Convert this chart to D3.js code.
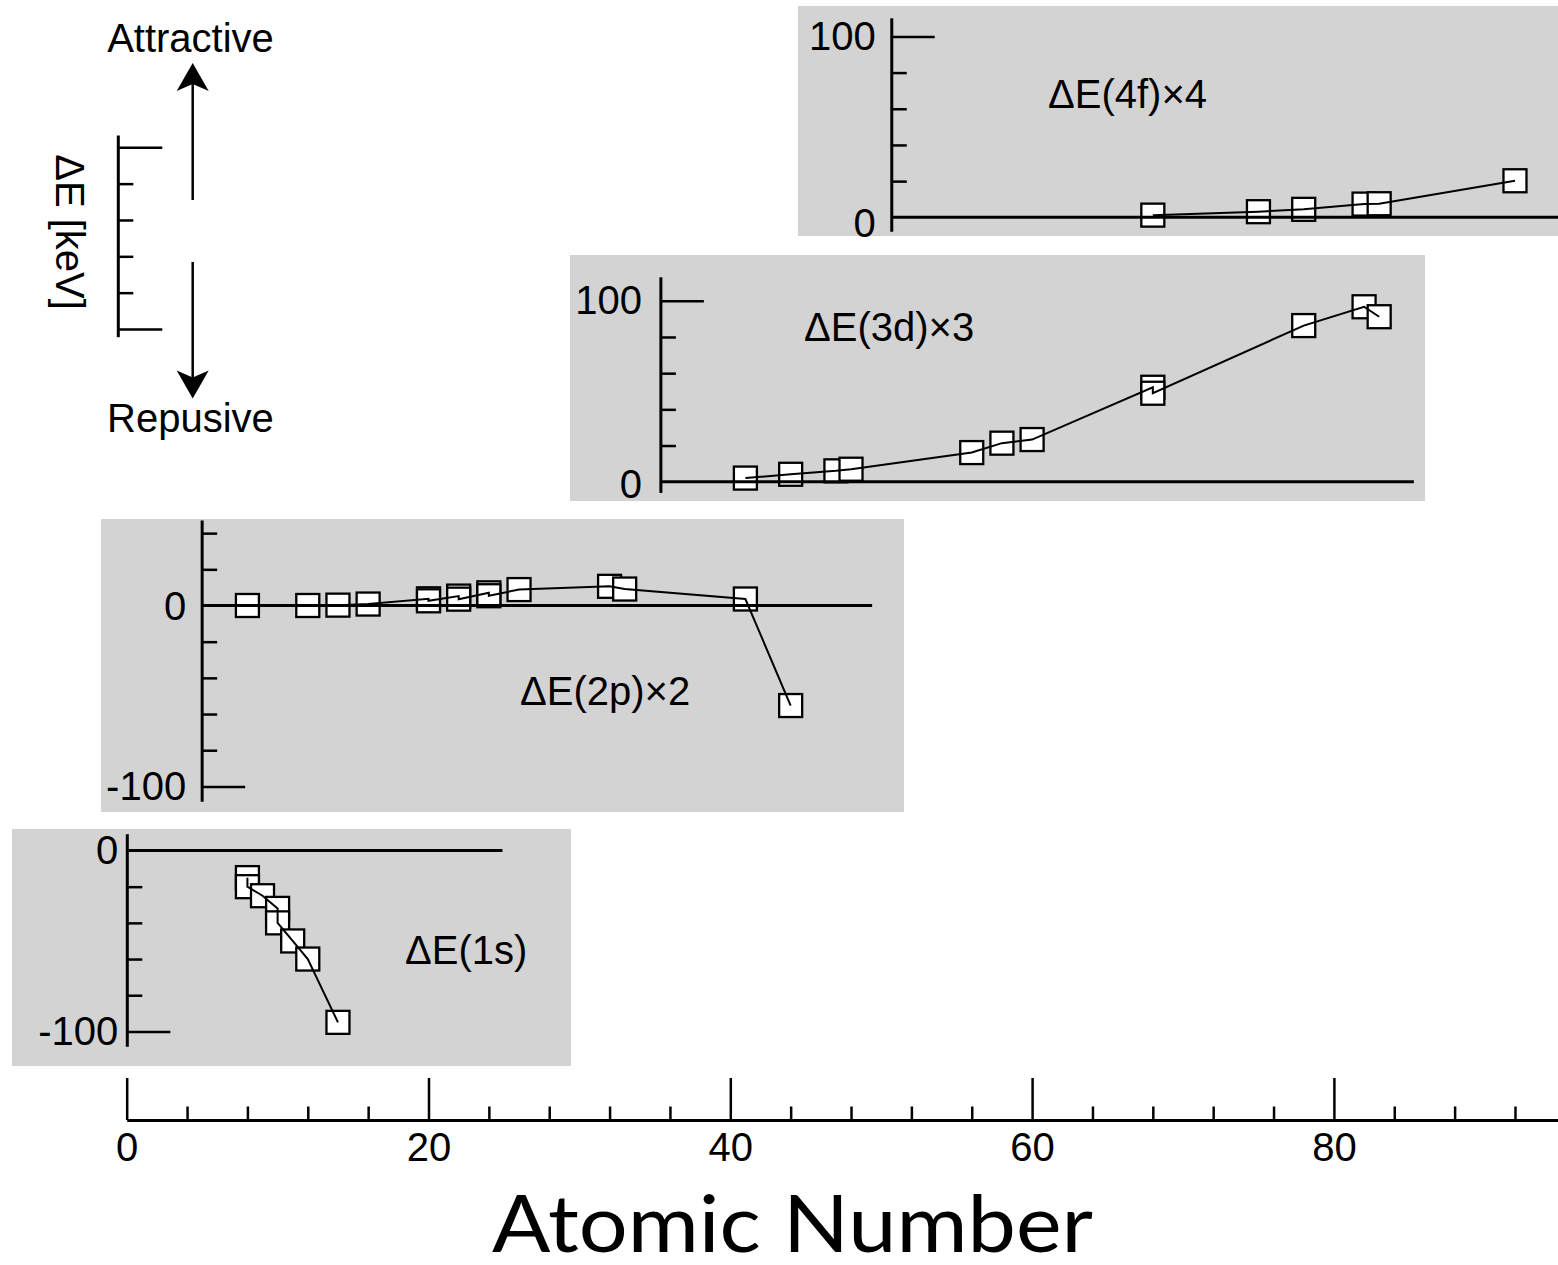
<!DOCTYPE html>
<html>
<head>
<meta charset="utf-8">
<script src="https://cdn.jsdelivr.net/npm/d3@7"></script>
<style>
  body { margin: 0; background: #fff; }
  svg { display: block; }
  text { fill: #000; }
</style>
</head>
<body>
<div id="chart"></div>
<script>
// atomic numbers and energy shifts
var z1s  = [8, 8, 9, 10, 10, 11, 12, 14];
var dE1s = [-15, -20, -25, -32, -40, -50, -60, -95];

var z2p  = [8, 12, 14, 16, 20, 20, 22, 22, 24, 24, 26, 32, 33, 41, 44];
var dE2p = [0, 0, 0.2, 0.8, 3.7, 2.6, 5.2, 3.5, 7.0, 5.4, 8.8, 10.6, 9.1, 3.6, -55.3];

var z3d  = [41, 44, 47, 48, 56, 58, 60, 68, 68, 78, 82, 83];
var dE3d = [2, 4.1, 6, 6.9, 16.1, 21.3, 23.3, 52.2, 48.9, 86.3, 96.7, 91.2];

var z4f  = [68, 75, 78, 82, 83, 92];
var dE4f = [1.2, 3.1, 4.4, 7.3, 7.5, 20.2];

var panelNames = ["ΔE(1s)", "ΔE(2p)×2", "ΔE(3d)×3", "ΔE(4f)×4"];
var xTickLabels = [0, 20, 40, 60, 80];
var yTickLabels = [[0, -100], [0, -100], [0, 100], [0, 100]];
var yMinorTicks = [[-20, -40, -60, -80], [40, 20, -20, -40, -60, -80], [20, 40, 60, 80], [20, 40, 60, 80]];
var scaleBarTicks = [0, 20, 40, 60, 80, 100];
var xTitle = "Atomic Number";
var yTitle = "ΔE [keV]";
var upLabel = "Attractive", downLabel = "Repusive";

// page size
var width = 1558, height = 1265;
var pxPerKeV = 1.809;
var sans = "'Liberation Sans', Arial, Helvetica, sans-serif";

// shared x scale (atomic number)
var x = d3.scaleLinear().domain([0, 95.5]).range([126.7, 126.7 + 95.5 * 15.09]);

// panel layout: grey box, y of zero, where the y axis sits, how far lines run
var layout = [
  {box: [12, 829, 559, 237],  y0: 850.5, axisZ: 0.04, ext: [9, -108.5],  zeroEnd: 24.9, pad: 9,  zeroDy: 0, label: [405, 964], z: z1s, v: dE1s},
  {box: [101, 519, 803, 293], y0: 605.5, axisZ: 5,    ext: [47, -108.5], zeroEnd: 49.4, pad: 16, zeroDy: 1, label: [520, 705], z: z2p, v: dE2p},
  {box: [570, 255, 855, 246], y0: 481.7, axisZ: 35.4, ext: [113, -6.2],  zeroEnd: 85.3, pad: 19, zeroDy: 3, label: [804, 341], z: z3d, v: dE3d},
  {box: [798, 6, 770, 230],   y0: 217.3, axisZ: 50.7, ext: [110, -8],    zeroEnd: 95.5, pad: 16, zeroDy: 6, label: [1048, 108], z: z4f, v: dE4f}
];

var svg = d3.select("#chart").append("svg")
    .attr("width", width)
    .attr("height", height)
    .style("font-family", sans);

layout.forEach(function(p, i) {
  var y = d3.scaleLinear().domain([0, 100]).range([p.y0, p.y0 - 100 * pxPerKeV]);
  var ax = x(p.axisZ);
  var g = svg.append("g");

  // grey background
  g.append("rect")
      .attr("x", p.box[0]).attr("y", p.box[1])
      .attr("width", p.box[2]).attr("height", p.box[3])
      .attr("fill", "#d3d3d3");

  // vertical axis line
  g.append("line")
      .attr("x1", ax).attr("x2", ax)
      .attr("y1", y(p.ext[0])).attr("y2", y(p.ext[1]))
      .attr("stroke", "#000").attr("stroke-width", 3);

  // minor ticks (pointing right)
  g.append("g")
      .attr("transform", "translate(" + ax + ",0)")
      .call(d3.axisLeft(y).tickValues(yMinorTicks[i]).tickSize(-15).tickFormat(""))
      .call(function(s) { s.select(".domain").remove(); })
      .selectAll("line").attr("stroke-width", 2.5);

  // labelled ticks
  var lab = g.append("g")
      .attr("transform", "translate(" + ax + ",0)")
      .call(d3.axisLeft(y).tickValues(yTickLabels[i]).tickSize(-43).tickPadding(p.pad)
            .tickFormat(function(d) { return String(d); }))
      .call(function(s) { s.select(".domain").remove(); });
  lab.selectAll(".tick line")
      .attr("stroke-width", 2.5)
      .attr("display", function(d) { return d === 0 ? "none" : null; });
  lab.selectAll("text")
      .attr("font-size", 40)
      .attr("y", function(d) { return d === 0 ? p.zeroDy : 0; })
      .style("font-family", sans);

  // data squares
  var pts = p.z.map(function(d, j) { return {z: d, v: p.v[j]}; });
  g.selectAll(".sq")
      .data(pts)
      .enter().append("rect")
      .attr("class", "sq")
      .attr("x", function(d) { return x(d.z) - 11.5; })
      .attr("y", function(d) { return y(d.v) - 11.5; })
      .attr("width", 23).attr("height", 23)
      .attr("fill", "#fff")
      .attr("stroke", "#000").attr("stroke-width", 2.3);

  // zero line
  g.append("line")
      .attr("x1", ax).attr("x2", x(p.zeroEnd))
      .attr("y1", y(0)).attr("y2", y(0))
      .attr("stroke", "#000").attr("stroke-width", 3);

  // connecting line
  var line = d3.line()
      .x(function(d) { return x(d.z); })
      .y(function(d) { return y(d.v); });
  g.append("path")
      .datum(pts)
      .attr("d", line)
      .attr("fill", "none")
      .attr("stroke", "#000").attr("stroke-width", 2);

  // panel label
  g.append("text")
      .attr("x", p.label[0]).attr("y", p.label[1])
      .attr("font-size", 40)
      .text(panelNames[i]);
});

// bottom axis
var xAxisY = 1120;
var minor = d3.range(0, 96, 4).filter(function(d) { return d % 20 !== 0; });
svg.append("g")
    .attr("transform", "translate(0," + xAxisY + ")")
    .call(d3.axisBottom(x).tickValues(minor).tickSize(-13.5).tickFormat("").tickSizeOuter(0))
    .call(function(s) {
      s.select(".domain").attr("stroke-width", 3);
      s.selectAll("line").attr("stroke-width", 2.5);
    });
svg.append("g")
    .attr("transform", "translate(0," + xAxisY + ")")
    .call(d3.axisBottom(x).tickValues(xTickLabels).tickSize(-42).tickPadding(13).tickSizeOuter(0))
    .call(function(s) {
      s.select(".domain").remove();
      s.selectAll("line").attr("stroke-width", 2.5);
      s.selectAll("text").attr("font-size", 40).style("font-family", sans);
    });

svg.append("text")
    .attr("x", 492).attr("y", 1252)
    .style("font-family", "Lato, 'Open Sans', sans-serif")
    .attr("font-size", 80)
    .attr("textLength", 601)
    .attr("lengthAdjust", "spacingAndGlyphs")
    .text(xTitle);

// legend: scale bar and arrows
var sb = d3.scaleLinear().domain([0, 100]).range([329, 147.3]);
var sbX = 118.3;
svg.append("line")
    .attr("x1", sbX).attr("x2", sbX)
    .attr("y1", sb(106.5)).attr("y2", sb(-4.5))
    .attr("stroke", "#000").attr("stroke-width", 3);
var sbAxis = svg.append("g")
    .attr("transform", "translate(" + sbX + ",0)")
    .call(d3.axisLeft(sb).tickValues(scaleBarTicks).tickSize(-15).tickFormat(""))
    .call(function(s) { s.select(".domain").remove(); });
sbAxis.selectAll("line")
    .attr("stroke-width", 2.5)
    .attr("x2", function(d) { return (d === 0 || d === 100) ? 44 : 15; });

svg.append("text")
    .attr("transform", "translate(56,232) rotate(90)")
    .attr("text-anchor", "middle")
    .attr("font-size", 40)
    .text(yTitle);

function arrow(xc, yFrom, yTip) {
  var dir = yTip < yFrom ? 1 : -1;
  svg.append("line")
      .attr("x1", xc).attr("x2", xc)
      .attr("y1", yFrom).attr("y2", yTip + dir * 20)
      .attr("stroke", "#000").attr("stroke-width", 2.5);
  var head = d3.path();
  head.moveTo(xc, yTip);
  head.lineTo(xc + 16, yTip + dir * 28);
  head.lineTo(xc, yTip + dir * 21);
  head.lineTo(xc - 16, yTip + dir * 28);
  head.closePath();
  svg.append("path").attr("d", head.toString()).attr("fill", "#000");
}
arrow(192.7, 200, 63);
arrow(192.7, 262, 398.5);

svg.append("text")
    .attr("x", 190.5).attr("y", 52)
    .attr("text-anchor", "middle")
    .attr("font-size", 40)
    .text(upLabel);
svg.append("text")
    .attr("x", 190.5).attr("y", 432)
    .attr("text-anchor", "middle")
    .attr("font-size", 40)
    .text(downLabel);
</script>
</body>
</html>
